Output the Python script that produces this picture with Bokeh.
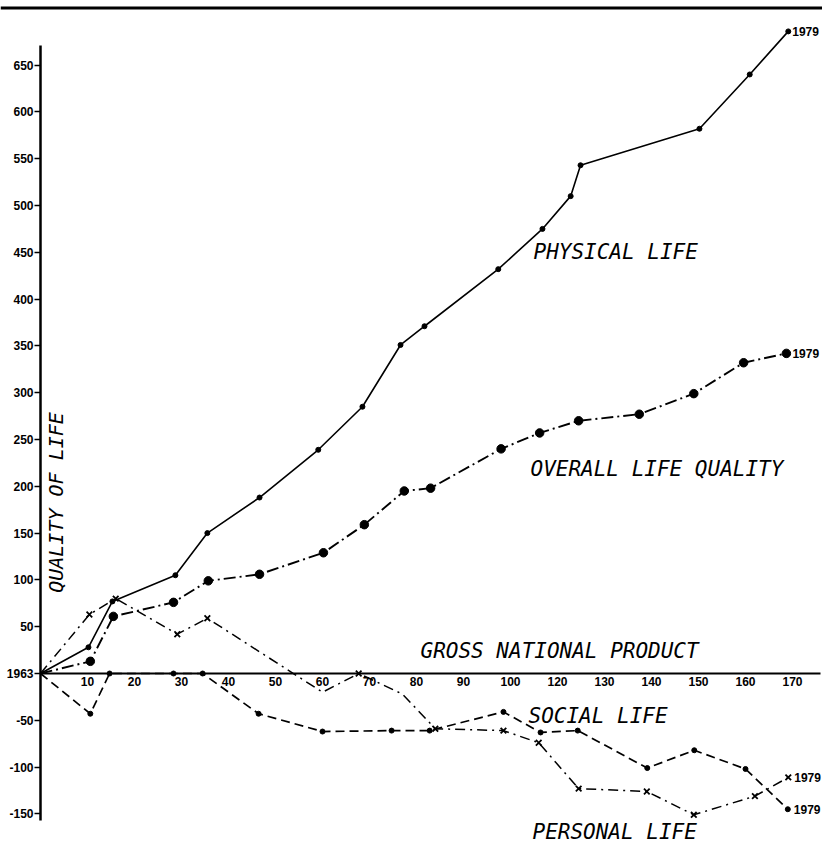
import numpy as np
from bokeh.plotting import figure
from bokeh.models import Range1d, LinearAxis, FixedTicker, Label, Span
from bokeh.embed import file_html
from bokeh.resources import INLINE

# ---------------- data ----------------
# x positions are in axis units (tick i*10 carries label x_tick_labels[i-1])
x_ticks = [10, 20, 30, 40, 50, 60, 70, 80, 90, 100, 110, 120, 130, 140, 150, 160]
x_tick_labels = ["10", "20", "30", "40", "50", "60", "70", "80", "90", "100",
                 "120", "130", "140", "150", "160", "170"]
y_ticks = [-150, -100, -50, 0, 50, 100, 150, 200, 250, 300, 350, 400, 450, 500, 550, 600, 650]
y_tick_labels = ["-150", "-100", "-50", "1963", "50", "100", "150", "200", "250",
                 "300", "350", "400", "450", "500", "550", "600", "650"]

physical_x = [0, 10.2, 15.3, 28.7, 35.5, 46.6, 59.1, 68.5, 76.6, 81.7, 97.4, 106.8, 112.8, 114.9, 140.2, 150.9, 159.1]
physical_y = [0, 28, 77, 105, 150, 188, 239, 285, 351, 371, 432, 475, 510, 543, 582, 640, 686]

overall_x = [0, 10.6, 15.5, 28.3, 35.7, 46.6, 60.2, 68.9, 77.4, 83.0, 98.0, 106.2, 114.5, 127.4, 139.0, 149.6, 158.7]
overall_y = [0, 13, 61, 76, 99, 106, 129, 159, 195, 198, 240, 257, 270, 277, 299, 332, 342]

social_x = [0, 10.6, 14.7, 28.3, 34.5, 46.4, 60.0, 74.7, 82.8, 98.5, 106.4, 114.3, 129.1, 139.1, 150.0, 159.0]
social_y = [0, -43, 0, 0, 0, -43, -62, -61, -61, -41, -63, -61, -101, -82, -102, -145]

personal_x = [0, 10.4, 16.0, 29.1, 35.5, 60.0, 67.7, 77.0, 84.0, 98.5, 106.0, 114.5, 129.0, 139.0, 152.0, 159.1]
personal_y = [0, 63, 80, 42, 59, -20, 0, -22, -59, -61, -74, -123, -126, -151, -131, -111]
personal_marked = [False, True, True, True, True, False, True, False, True, True, True, True, True, True, True, True]

# ---------------- layout ----------------
W, H = 822, 860
K = 4.7       # px per x unit
S = 0.936     # px per y unit
OX, OY = 40, 673   # canvas position of the origin


def px2x(page_px):
    return (page_px - OX) / K


def px2y(page_py):
    return (OY - page_py) / S


p = figure(width=W, height=H,
           x_range=Range1d(-OX / K, (W - OX) / K),
           y_range=Range1d(-(H - OY) / S, OY / S),
           output_backend="svg", toolbar_location=None,
           x_axis_location=None, y_axis_location=None,
           min_border=0, min_border_left=0, min_border_right=0,
           min_border_top=0, min_border_bottom=0,
           outline_line_color=None,
           background_fill_color="white", border_fill_color="white")
p.grid.visible = False

tick_font = "Liberation Sans"

xaxis = LinearAxis(fixed_location=0, bounds=(0, 166),
                   ticker=FixedTicker(ticks=x_ticks),
                   major_label_overrides={t: l for t, l in zip(x_ticks, x_tick_labels)},
                   axis_line_width=2, axis_line_color="black",
                   major_tick_in=0, major_tick_out=0,
                   major_tick_line_color=None, minor_tick_line_color=None,
                   major_label_standoff=3,
                   major_label_text_font=tick_font,
                   major_label_text_font_style="bold",
                   major_label_text_font_size="12px",
                   major_label_text_color="black")
p.add_layout(xaxis, "below")

yaxis = LinearAxis(fixed_location=0, bounds=(-157, 671),
                   ticker=FixedTicker(ticks=y_ticks),
                   major_label_overrides={t: l for t, l in zip(y_ticks, y_tick_labels)},
                   axis_line_width=2.5, axis_line_color="black",
                   major_tick_in=0, major_tick_out=6,
                   major_tick_line_width=1.3, major_tick_line_color="black",
                   minor_tick_line_color=None,
                   major_label_standoff=1,
                   major_label_text_font=tick_font,
                   major_label_text_font_style="bold",
                   major_label_text_font_size="12px",
                   major_label_text_color="black")
p.add_layout(yaxis, "left")

# top rule
p.add_layout(Span(location=px2y(7.5), dimension="width", line_color="black", line_width=2.8))

# ---------------- series ----------------
p.line(physical_x, physical_y, line_color="black", line_width=1.6)
p.scatter(physical_x[1:], physical_y[1:], size=5, color="black")

p.line(overall_x, overall_y, line_color="black", line_width=1.9, line_dash="12 4 2 4")
p.scatter(overall_x[1:], overall_y[1:], size=8.5, color="black")

p.line(social_x, social_y, line_color="black", line_width=1.7, line_dash="9 5")
p.scatter(social_x[1:], social_y[1:], size=5, color="black")

p.line(personal_x, personal_y, line_color="black", line_width=1.5, line_dash="10 5 2 5")
mx = [x for x, m in zip(personal_x, personal_marked) if m]
my = [y for y, m in zip(personal_y, personal_marked) if m]
p.scatter(mx, my, marker="x", size=8, line_color="black", line_width=1.8)

# ---------------- texts ----------------
lab_font = "DejaVu Sans Mono"


def big_label(text, page_x, page_center_y, size="21px"):
    p.add_layout(Label(x=px2x(page_x), y=px2y(page_center_y), text=text,
                       text_font=lab_font, text_font_style="italic",
                       text_font_size=size, text_color="black",
                       text_align="left", text_baseline="middle"))


big_label("PHYSICAL LIFE", 533, 251)
big_label("OVERALL LIFE QUALITY", 530, 468)
big_label("GROSS NATIONAL PRODUCT", 420, 650)
big_label("SOCIAL LIFE", 528, 715)
big_label("PERSONAL LIFE", 532, 831)

p.add_layout(Label(x=px2x(55), y=px2y(502), text="QUALITY OF LIFE", angle=np.pi / 2,
                   text_font=lab_font, text_font_style="italic",
                   text_font_size="20px", text_color="black",
                   text_align="center", text_baseline="middle"))

for xs, ys, off in [(physical_x, physical_y, 4), (overall_x, overall_y, 6),
                    (social_x, social_y, 6), (personal_x, personal_y, 6)]:
    p.add_layout(Label(x=xs[-1], y=ys[-1], x_offset=off, text="1979",
                       text_font=tick_font, text_font_style="bold",
                       text_font_size="12px", text_color="black",
                       text_align="left", text_baseline="middle"))

open("out.html", "w").write(file_html(p, INLINE))
